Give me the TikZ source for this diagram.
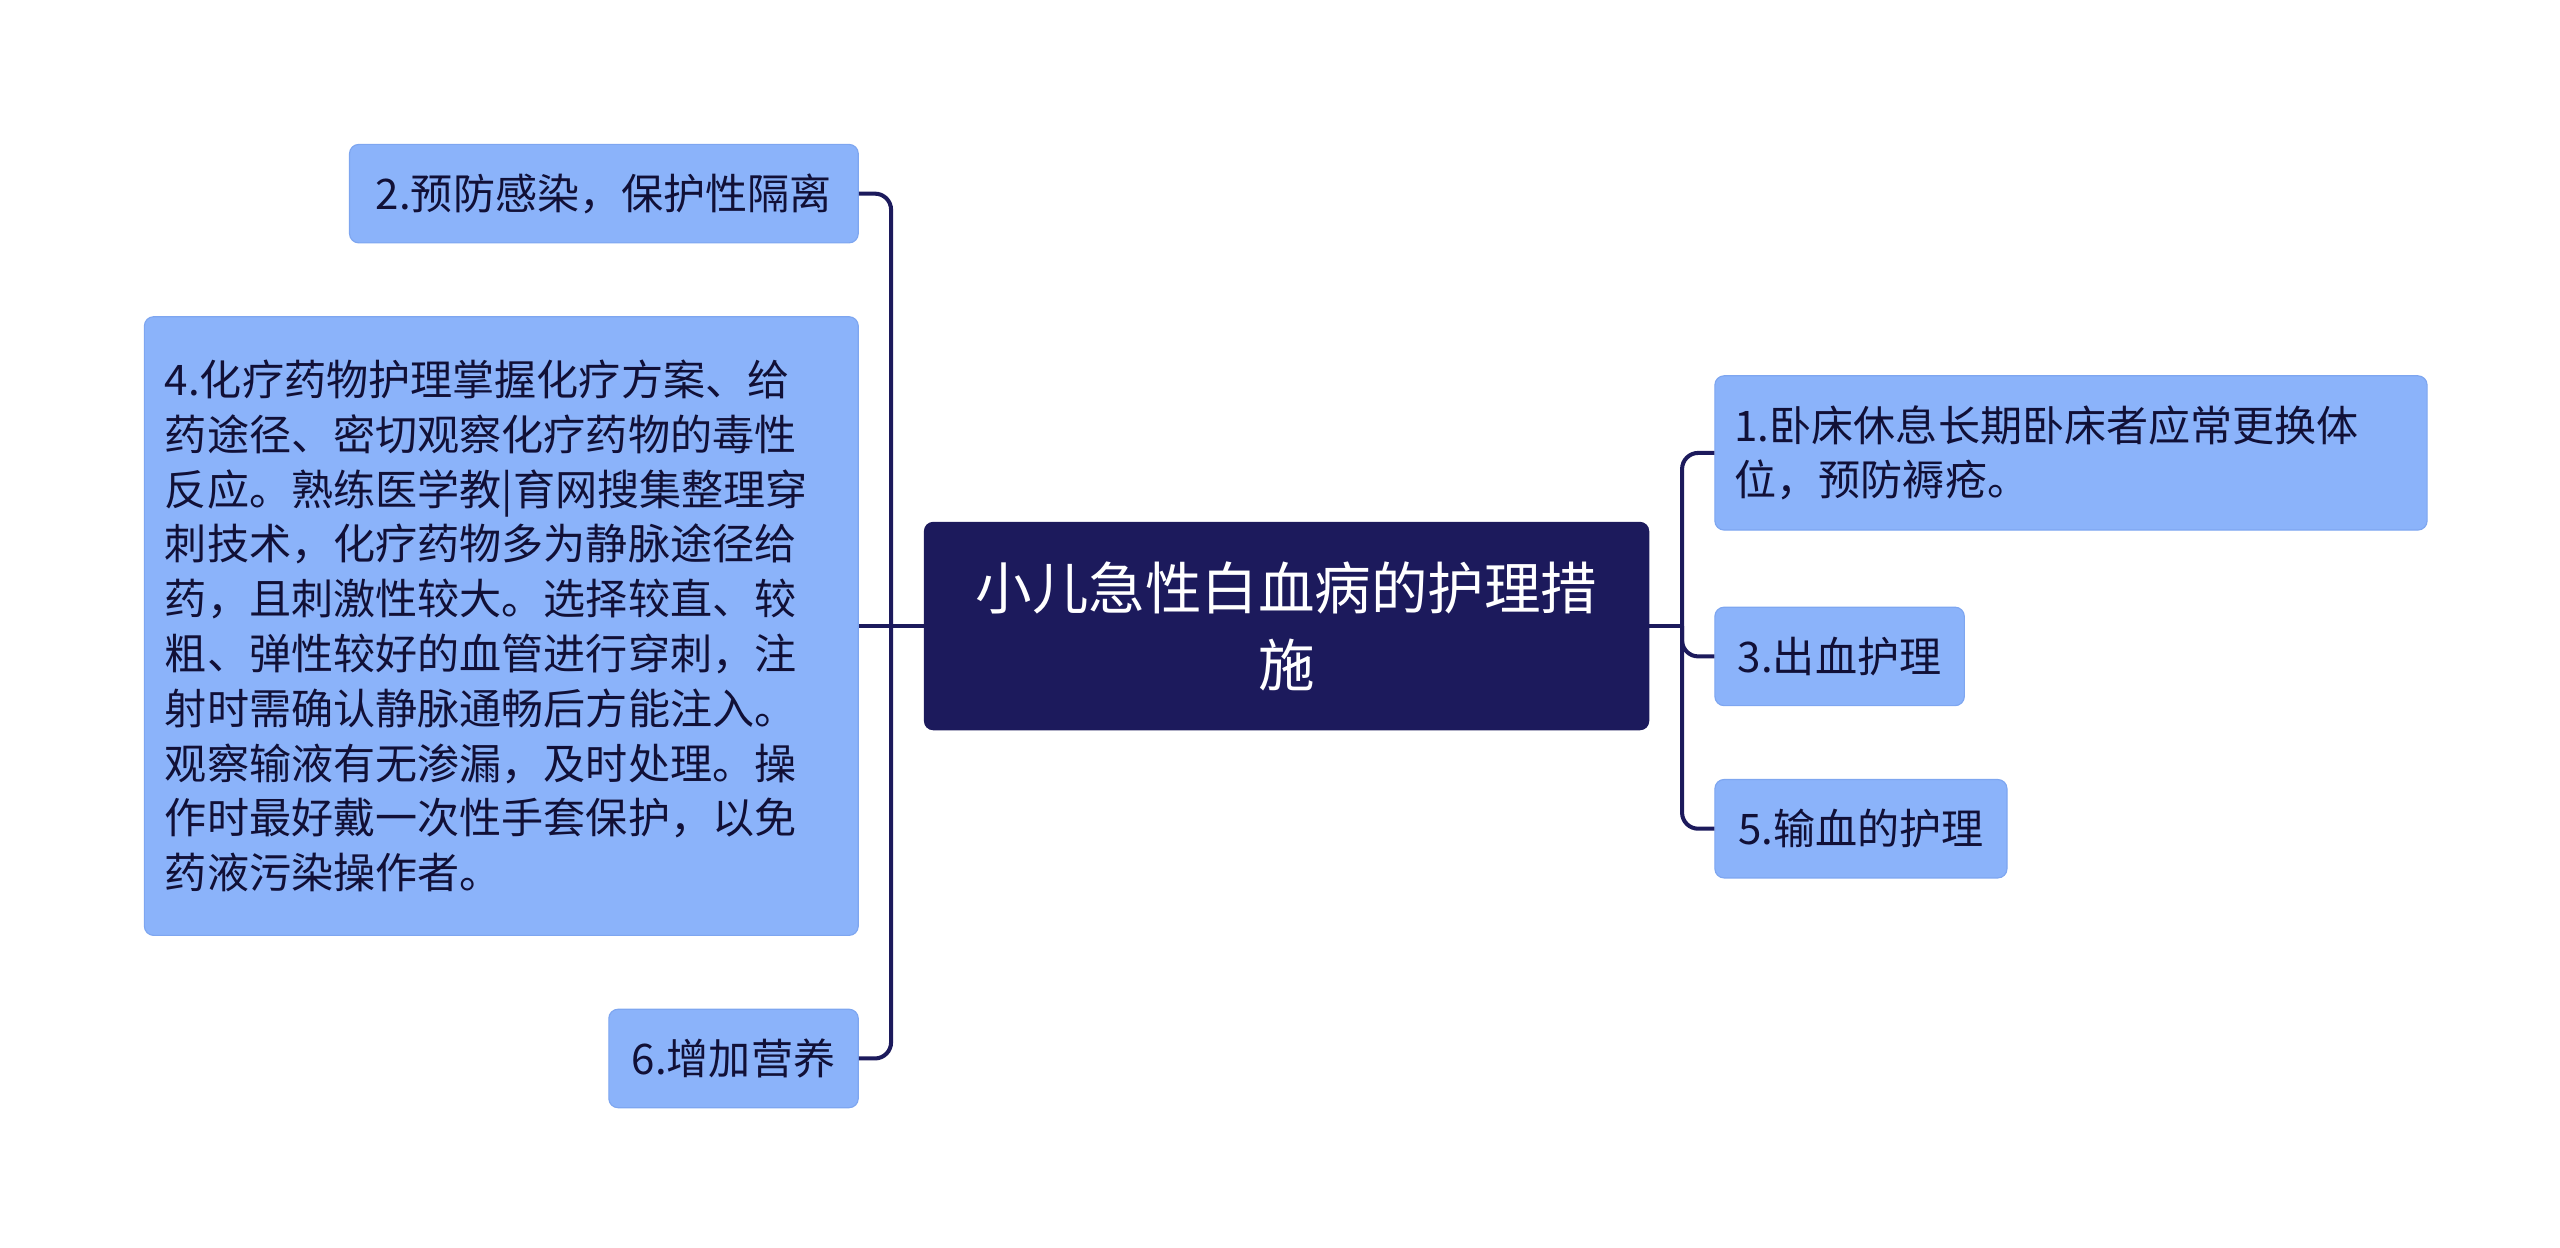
\documentclass[tikz,border=0pt]{standalone}
\usepackage{fontspec}
\setmainfont{Noto Sans CJK SC}
\begin{document}
\begin{tikzpicture}[x=0.05cm,y=-0.05cm,
  lf/.style={draw=leafbd,fill=leafbg,rounded corners=8pt,line width=1pt,inner sep=0pt,font=\fontsize{36.5}{47.5}\selectfont,text=rootc!60!black},
  conn/.style={draw=rootc,line width=3.5pt,rounded corners=14pt}]
\definecolor{rootc}{HTML}{1C1A5C}
\definecolor{leafbg}{HTML}{8BB3FA}
\definecolor{leafbd}{HTML}{7EA6F0}
\useasboundingbox (0,0) rectangle (1560,760);
\node[fill=rootc,rounded corners=8pt,minimum width=442*0.05cm,minimum height=127*0.05cm,text=white,align=center,inner sep=0pt,font=\fontsize{49}{67}\selectfont] (root) at (784,381.5) {小儿急性白血病的护理措\\施};
\node[lf,minimum width=310*0.05cm,minimum height=60*0.05cm] (n2) at (368,118) {2.预防感染，保护性隔离};
\node[lf,minimum width=435*0.05cm,minimum height=377*0.05cm,align=left,text width=410*0.05cm] (n4) at (305.5,381.5) {4.化疗药物护理掌握化疗方案、给\\药途径、密切观察化疗药物的毒性\\反应。熟练医学教|育网搜集整理穿\\刺技术，化疗药物多为静脉途径给\\药，且刺激性较大。选择较直、较\\粗、弹性较好的血管进行穿刺，注\\射时需确认静脉通畅后方能注入。\\观察输液有无渗漏，及时处理。操\\作时最好戴一次性手套保护，以免\\药液污染操作者。};
\node[lf,minimum width=152*0.05cm,minimum height=60*0.05cm] (n6) at (447,645) {6.增加营养};
\node[lf,minimum width=434*0.05cm,minimum height=94*0.05cm,align=left,text width=410*0.05cm] (n1) at (1262,276) {1.卧床休息长期卧床者应常更换体\\位，预防褥疮。};
\node[lf,minimum width=152*0.05cm,minimum height=60*0.05cm] (n3) at (1121,400) {3.出血护理};
\node[lf,minimum width=178*0.05cm,minimum height=60*0.05cm] (n5) at (1134,505) {5.输血的护理};
\coordinate (bl) at (543,381.5);
\coordinate (br) at (1025,381.5);
\draw[conn] (root.west) -- (bl);
\draw[conn] (bl) |- (n2.east);
\draw[conn] (bl) -- (n4.east);
\draw[conn] (bl) |- (n6.east);
\draw[conn] (root.east) -- (br);
\draw[conn] (br) |- (n1.west);
\draw[conn] (br) |- (n3.west);
\draw[conn] (br) |- (n5.west);
\end{tikzpicture}
\end{document}
